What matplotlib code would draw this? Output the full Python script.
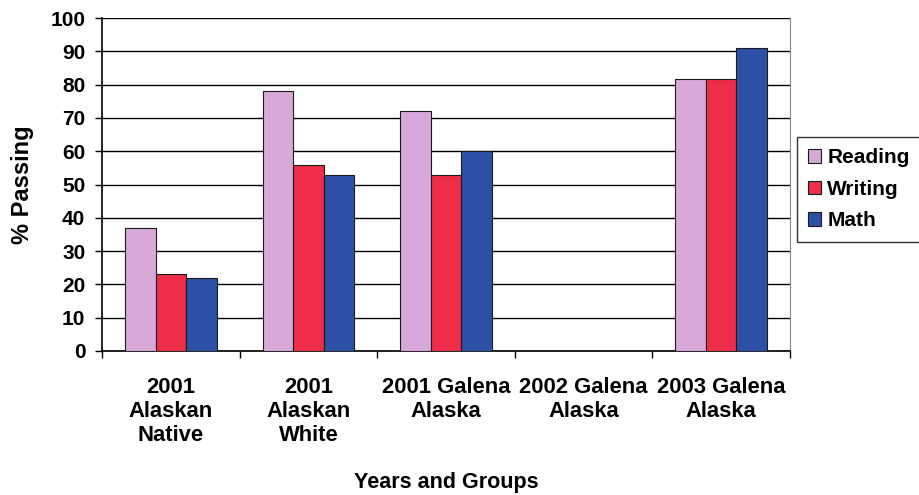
import numpy as np
import matplotlib
matplotlib.use("Agg")
import matplotlib.pyplot as plt
from matplotlib.ticker import FixedLocator

# test results by year and group
groups = ["2001\nAlaskan\nNative", "2001\nAlaskan\nWhite", "2001 Galena\nAlaska",
          "2002 Galena\nAlaska", "2003 Galena\nAlaska"]
reading = [37, 78, 72, np.nan, 81.8]
writing = [23, 56, 53, np.nan, 81.8]
math_ = [22, 53, 60, np.nan, 90.9]

series = [("Reading", reading, "#D8A9D8"),
          ("Writing", writing, "#EE2D48"),
          ("Math", math_, "#2B50A6")]

plt.rcParams['font.family'] = ['Liberation Sans', 'DejaVu Sans']
plt.rcParams['font.weight'] = 'bold'

fig = plt.figure(figsize=(9.19, 4.95), dpi=100)
ax = fig.add_axes([102/919., 1 - 351/495., (790 - 102)/919., (351 - 18)/495.])

x = np.arange(len(groups))
width = 1.0 / 4.5
for i, (name, vals, col) in enumerate(series):
    ax.bar(x + (i - 1) * width, vals, width, label=name, color=col,
           edgecolor="#1a1a1a", linewidth=0.8, zorder=3)

ax.set_xlim(-0.5, len(groups) - 0.5)
ax.set_ylim(0, 100)
ax.set_yticks(np.arange(0, 101, 10))
ax.yaxis.grid(True, color="black", linewidth=1.0, zorder=0)
ax.set_axisbelow(True)

# group labels at centres, tick marks at the boundaries
ax.set_xticks(x)
ax.set_xticklabels(groups, fontsize=15.8, fontweight='bold', linespacing=1.17)
ax.tick_params(axis='x', which='major', length=0, pad=19)
ax.xaxis.set_minor_locator(FixedLocator(np.arange(-0.5, len(groups), 1.0)))
ax.tick_params(axis='x', which='minor', length=5, width=1, color='black')
ax.tick_params(axis='y', length=5, width=1, labelsize=15, pad=7)
for t in ax.get_yticklabels():
    t.set_fontweight('bold')

ax.spines['top'].set_visible(False)
ax.spines['right'].set_color('#888888')
ax.spines['right'].set_linewidth(0.8)
ax.spines['left'].set_linewidth(1.2)
ax.spines['bottom'].set_linewidth(1.2)

ax.set_ylabel("% Passing", fontsize=17, fontweight='bold', labelpad=12)
ax.set_xlabel("Years and Groups", fontsize=15.5, fontweight='bold')
ax.xaxis.set_label_coords(0.5, (351 - 472) / 333.)

leg = fig.legend(loc='upper left', bbox_to_anchor=(797/919., 1 - 137/495.),
                 fontsize=15, frameon=True, fancybox=False, handlelength=0.6,
                 handleheight=0.6, handletextpad=0.3, labelspacing=0.6,
                 borderpad=0.55, borderaxespad=0)
leg.get_frame().set_edgecolor('black')
leg.get_frame().set_linewidth(1.0)
for t in leg.get_texts():
    t.set_fontweight('bold')

fig.savefig("out.png", dpi=100)
